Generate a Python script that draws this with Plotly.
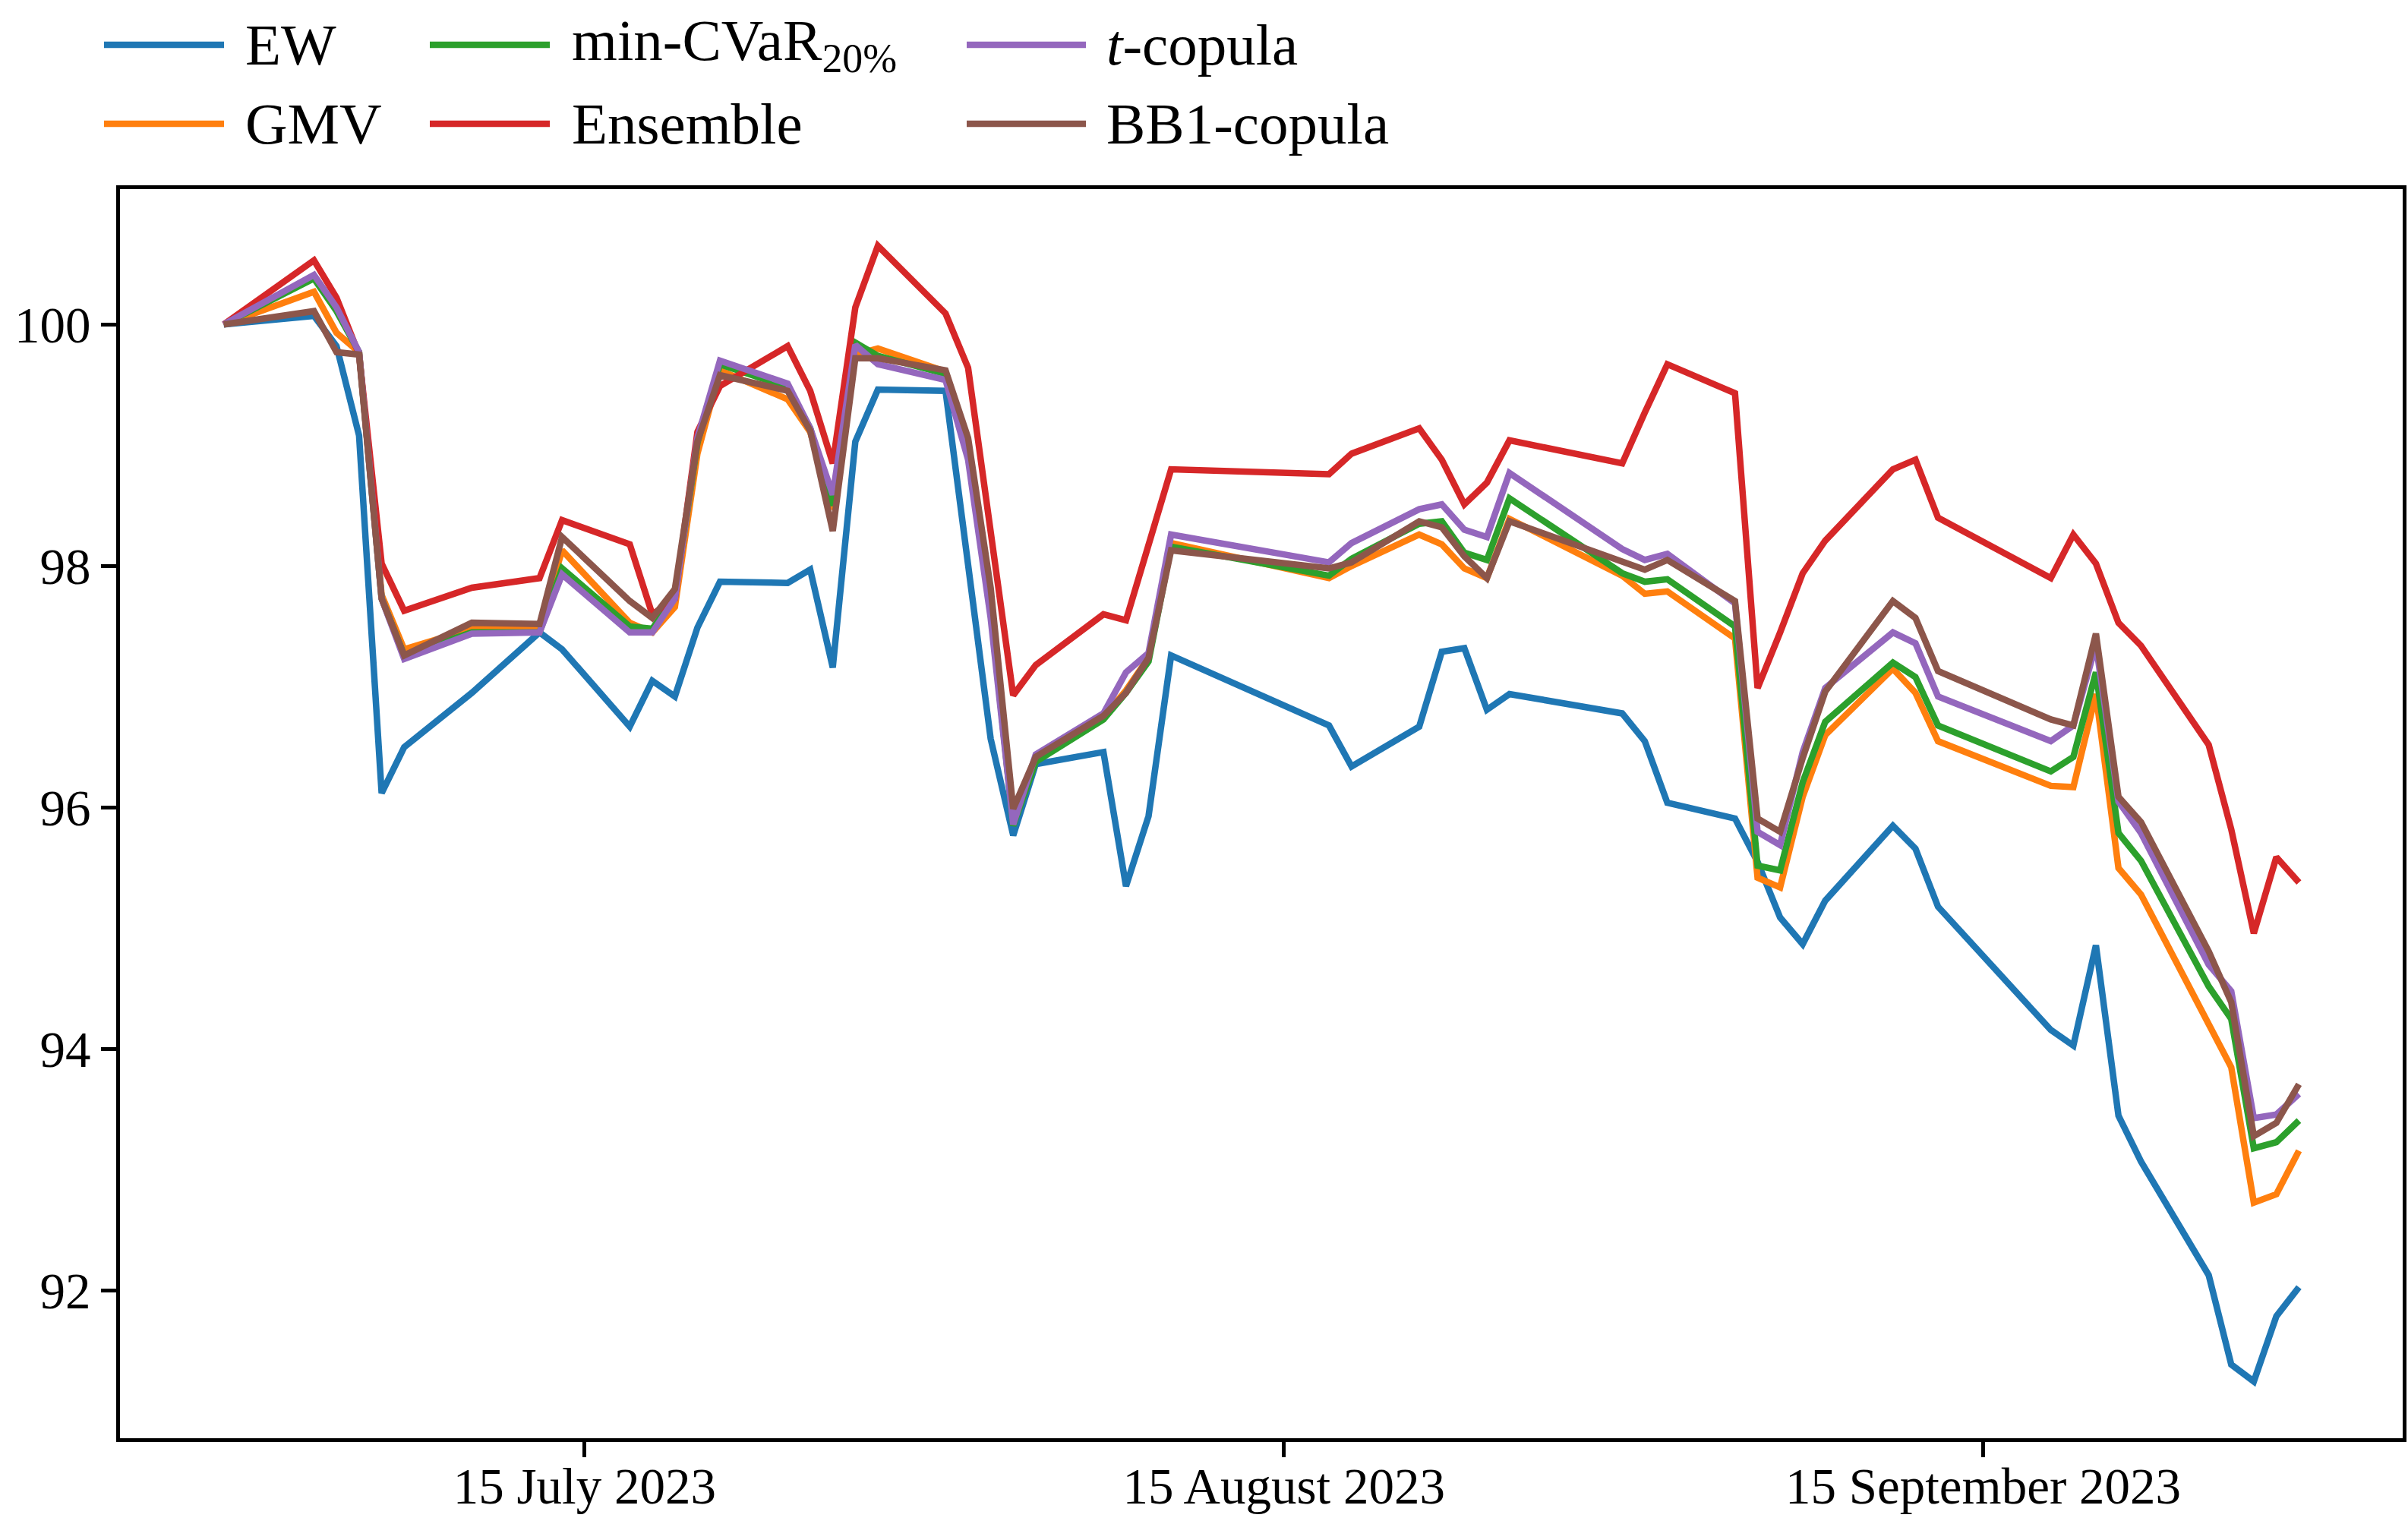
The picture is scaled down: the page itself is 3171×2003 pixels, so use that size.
import plotly.graph_objects as go
import pandas as pd

# ---- data ----
dates = [
    "2023-06-29", "2023-07-03", "2023-07-04", "2023-07-05", "2023-07-06", "2023-07-07",
    "2023-07-10", "2023-07-13", "2023-07-14", "2023-07-17", "2023-07-18", "2023-07-19",
    "2023-07-20", "2023-07-21", "2023-07-24", "2023-07-25", "2023-07-26", "2023-07-27",
    "2023-07-28", "2023-07-31", "2023-08-01", "2023-08-02", "2023-08-03", "2023-08-04",
    "2023-08-07", "2023-08-08", "2023-08-09", "2023-08-10", "2023-08-17", "2023-08-18",
    "2023-08-21", "2023-08-22", "2023-08-23", "2023-08-24", "2023-08-25", "2023-08-30",
    "2023-08-31", "2023-09-01", "2023-09-04", "2023-09-05", "2023-09-06", "2023-09-07",
    "2023-09-08", "2023-09-11", "2023-09-12", "2023-09-13", "2023-09-18", "2023-09-19",
    "2023-09-20", "2023-09-21", "2023-09-22", "2023-09-25", "2023-09-26", "2023-09-27",
    "2023-09-28", "2023-09-29",
]

ew = [
    100.0, 100.07, 99.82, 99.08, 96.12, 96.50, 96.95, 97.45, 97.31, 96.67, 97.05, 96.92,
    97.49, 97.87, 97.86, 97.97, 97.16, 99.03, 99.46, 99.45, 98.01, 96.57, 95.77, 96.36,
    96.46, 95.35, 95.93, 97.26, 96.68, 96.34, 96.67, 97.29, 97.32, 96.81, 96.94, 96.78,
    96.55, 96.04, 95.91, 95.55, 95.09, 94.87, 95.23, 95.85, 95.66, 95.18, 94.16, 94.03,
    94.86, 93.45, 93.07, 92.13, 91.39, 91.25, 91.79, 92.03,
]

gmv = [
    100.0, 100.27, 99.93, 99.77, 97.76, 97.31, 97.48, 97.50, 98.13, 97.53, 97.45, 97.66,
    98.93, 99.62, 99.38, 99.11, 98.47, 99.75, 99.80, 99.61, 98.95, 97.62, 95.88, 96.39,
    96.75, 96.97, 97.24, 98.19, 97.90, 98.00, 98.26, 98.18, 97.98, 97.90, 98.39, 97.92,
    97.77, 97.79, 97.40, 95.42, 95.34, 96.09, 96.60, 97.15, 96.95, 96.55, 96.18, 96.17,
    96.94, 95.50, 95.28, 94.20, 93.85, 92.73, 92.80, 93.16,
]

min_cvar = [
    100.0, 100.38, 100.11, 99.77, 97.73, 97.26, 97.45, 97.45, 97.98, 97.50, 97.48, 97.75,
    99.02, 99.67, 99.48, 99.14, 98.50, 99.85, 99.74, 99.59, 99.00, 97.65, 95.85, 96.38,
    96.73, 96.95, 97.21, 98.16, 97.92, 98.06, 98.35, 98.37, 98.11, 98.05, 98.56, 97.94,
    97.87, 97.89, 97.50, 95.52, 95.48, 96.21, 96.71, 97.20, 97.08, 96.68, 96.30, 96.42,
    97.12, 95.79, 95.56, 94.52, 94.25, 93.18, 93.23, 93.41,
]

ensemble = [
    100.0, 100.53, 100.22, 99.75, 98.02, 97.63, 97.82, 97.90, 98.38, 98.18, 97.60, 97.73,
    99.11, 99.49, 99.82, 99.45, 98.85, 100.14, 100.65, 100.09, 99.64, 98.28, 96.93, 97.18,
    97.60, 97.55, 98.17, 98.80, 98.76, 98.93, 99.14, 98.88, 98.51, 98.69, 99.04, 98.85,
    99.27, 99.67, 99.43, 96.99, 97.45, 97.94, 98.21, 98.80, 98.88, 98.40, 97.90, 98.26,
    98.02, 97.53, 97.34, 96.52, 95.82, 94.96, 95.59, 95.38,
]

t_copula = [
    100.0, 100.41, 100.14, 99.77, 97.73, 97.23, 97.44, 97.45, 97.93, 97.45, 97.45, 97.73,
    99.06, 99.70, 99.51, 99.14, 98.59, 99.83, 99.67, 99.54, 98.88, 97.57, 95.86, 96.44,
    96.78, 97.12, 97.28, 98.26, 98.03, 98.19, 98.47, 98.51, 98.30, 98.24, 98.77, 98.14,
    98.05, 98.10, 97.69, 95.80, 95.69, 96.46, 96.99, 97.45, 97.36, 96.92, 96.55, 96.68,
    97.35, 96.05, 95.79, 94.70, 94.48, 93.43, 93.46, 93.63,
]

bb1_copula = [
    100.0, 100.11, 99.77, 99.75, 97.73, 97.26, 97.53, 97.52, 98.24, 97.71, 97.57, 97.81,
    99.03, 99.58, 99.45, 99.12, 98.29, 99.72, 99.72, 99.62, 99.06, 97.82, 95.99, 96.42,
    96.76, 96.95, 97.24, 98.13, 97.98, 98.03, 98.37, 98.32, 98.08, 97.90, 98.37, 98.03,
    97.97, 98.05, 97.71, 95.91, 95.80, 96.41, 96.96, 97.71, 97.57, 97.13, 96.73, 96.68,
    97.44, 96.09, 95.88, 94.81, 94.39, 93.28, 93.39, 93.71,
]

series_names = ["EW", "GMV", "min-CVaR<sub>20%</sub>", "Ensemble", "<i>t</i>-copula", "BB1-copula"]
series_values = [ew, gmv, min_cvar, ensemble, t_copula, bb1_copula]
series_colors = ["#1f77b4", "#ff7f0e", "#2ca02c", "#d62728", "#9467bd", "#8c564b"]

x_tickvals = ["2023-07-15", "2023-08-15", "2023-09-15"]
x_ticktext = ["15 July 2023", "15 August 2023", "15 September 2023"]
y_tickvals = [92, 94, 96, 98, 100]

# ---- layout constants (pixels) ----
W, H = 3171, 2003
ML, MR, MT, MB = 158, 7, 249, 109
FONT = "Liberation Serif"
LINE_W = 8.5
TICK_FONT = 67
LEGEND_FONT = 77

fig = go.Figure()
for name, vals, color in zip(series_names, series_values, series_colors):
    fig.add_trace(go.Scatter(
        x=dates, y=vals, mode="lines", name=name,
        line=dict(color=color, width=LINE_W),
        showlegend=False,
    ))

# axis ranges with matplotlib-like 5% margins
d0, d1 = pd.Timestamp(dates[0]), pd.Timestamp(dates[-1])
span = d1 - d0
x_range = [(d0 - 0.05 * span).isoformat(), (d1 + 0.05 * span).isoformat()]
all_vals = [v for s in series_values for v in s]
vmin, vmax = min(all_vals), max(all_vals)
pad = 0.05 * (vmax - vmin)
y_range = [vmin - pad, vmax + pad]

# ---- manual legend (matplotlib style: 3 columns x 2 rows) ----
pw = W - ML - MR
ph = H - MT - MB
def px_x(p):
    return (p - ML) / pw
def px_y(p):
    return (H - MB - p) / ph

legend_cols = [(137, 295, 321), (566, 724, 751), (1273, 1430, 1455)]
legend_rows = [59, 163]
shapes = []
annotations = []
for i, (name, color) in enumerate(zip(series_names, series_colors)):
    col = i // 2
    row = i % 2
    lx0, lx1, tx = legend_cols[col]
    yy = px_y(legend_rows[row])
    shapes.append(dict(type="line", xref="paper", yref="paper",
                       x0=px_x(lx0), x1=px_x(lx1), y0=yy, y1=yy,
                       line=dict(color=color, width=LINE_W)))
    annotations.append(dict(xref="paper", yref="paper", x=px_x(tx), y=yy,
                            xanchor="left", yanchor="middle", showarrow=False,
                            text=name, font=dict(family=FONT, size=LEGEND_FONT, color="black")))

fig.update_layout(
    width=W, height=H, autosize=False,
    margin=dict(l=ML, r=MR, t=MT, b=MB, pad=0),
    paper_bgcolor="white", plot_bgcolor="white",
    font=dict(family=FONT, size=TICK_FONT, color="black"),
    shapes=shapes, annotations=annotations,
    showlegend=False,
)
fig.update_xaxes(
    type="date", range=x_range, automargin=False,
    tickvals=x_tickvals, ticktext=x_ticktext,
    showgrid=False, zeroline=False,
    showline=True, mirror=True, linecolor="black", linewidth=5,
    ticks="outside", ticklen=20, tickwidth=5, tickcolor="black",
    ticklabelstandoff=-19,
    tickfont=dict(family=FONT, size=TICK_FONT, color="black"),
)
fig.update_yaxes(
    range=y_range, tickvals=y_tickvals, automargin=False,
    showgrid=False, zeroline=False,
    showline=True, mirror=True, linecolor="black", linewidth=5,
    ticks="outside", ticklen=20, tickwidth=5, tickcolor="black",
    tickfont=dict(family=FONT, size=TICK_FONT, color="black"),
)

fig.write_html("out.html", config={"displayModeBar": False},
               post_script="document.body.style.margin='0';")
